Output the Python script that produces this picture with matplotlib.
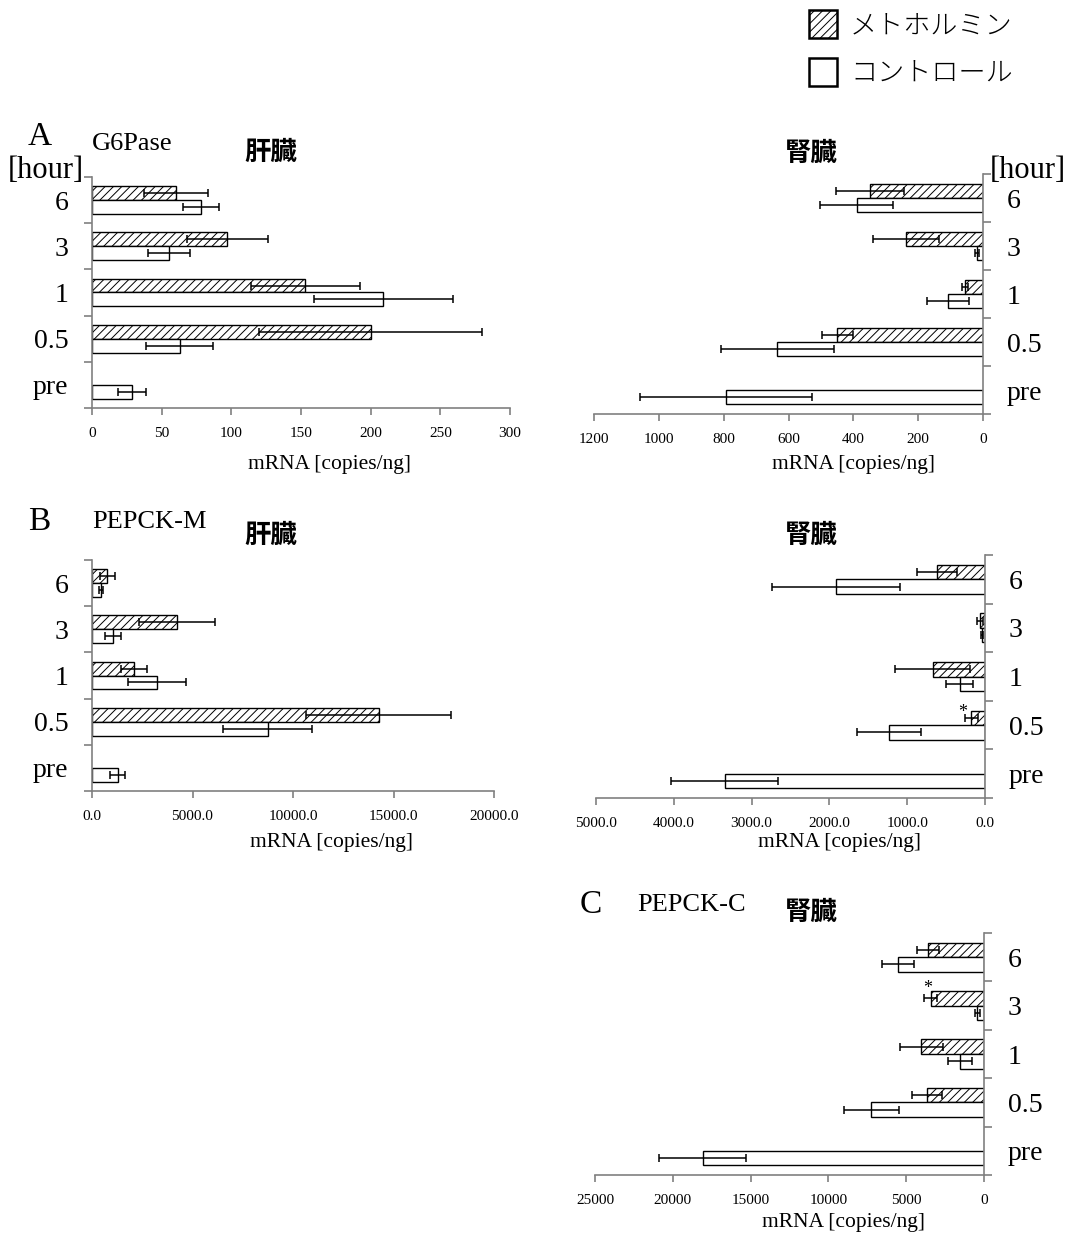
import numpy as np
import matplotlib
matplotlib.use("Agg")
import matplotlib.pyplot as plt
from matplotlib.patches import Rectangle
from matplotlib.ticker import FormatStrFormatter

W, H = 1075, 1237
SERIF = "Liberation Serif"
JP = "Noto Sans CJK JP"
plt.rcParams["font.family"] = [SERIF, JP]
plt.rcParams["hatch.linewidth"] = 0.7
plt.rcParams["hatch.color"] = "#222222"
GRAY = "#808080"

hours = ["6", "3", "1", "0.5", "pre"]

# G6Pase (copies/ng), order: 6, 3, 1, 0.5, pre
g6_liver_met = [60, 97, 153, 200, 0]
g6_liver_met_sd = [23, 29, 39, 80, 0]
g6_liver_ctl = [78, 55, 209, 63, 29]
g6_liver_ctl_sd = [13, 15, 50, 24, 10]
g6_kidney_met = [350, 237, 55, 449, 0]
g6_kidney_met_sd = [105, 102, 10, 47, 0]
g6_kidney_ctl = [390, 18, 109, 634, 794]
g6_kidney_ctl_sd = [112, 6, 65, 173, 265]

# PEPCK-M
pm_liver_met = [750, 4230, 2070, 14270, 0]
pm_liver_met_sd = [370, 1900, 650, 3600, 0]
pm_liver_ctl = [445, 1040, 3230, 8740, 1280]
pm_liver_ctl_sd = [110, 390, 1450, 2220, 360]
pm_kidney_met = [613, 69, 673, 176, 0]
pm_kidney_met_sd = [257, 40, 480, 82, 0]
pm_kidney_ctl = [1919, 39, 326, 1238, 3346]
pm_kidney_ctl_sd = [822, 15, 178, 410, 685]

# PEPCK-C
pc_kidney_met = [3580, 3430, 4030, 3670, 0]
pc_kidney_met_sd = [710, 430, 1370, 975, 0]
pc_kidney_ctl = [5540, 430, 1545, 7250, 18090]
pc_kidney_ctl_sd = [1020, 150, 770, 1760, 2820]

fig = plt.figure(figsize=(W / 100, H / 100), dpi=100)


def ftext(x, y, s, **kw):
    kw.setdefault("va", "center")
    fig.text(x / W, 1 - y / H, s, **kw)


def panel(rect, met, met_sd, ctl, ctl_sd, xmax, xstep, fmt, side, xlabel_x, xlabel_y):
    l, t, r, b = rect
    ax = fig.add_axes([l / W, 1 - b / H, (r - l) / W, (b - t) / H])
    y = np.arange(len(hours))
    h = 0.3
    met, met_sd = np.array(met, float), np.array(met_sd, float)
    ctl, ctl_sd = np.array(ctl, float), np.array(ctl_sd, float)
    m = met > 0
    ax.barh((y - h / 2)[m], met[m], height=h, color="white", edgecolor="black",
            hatch="////", linewidth=1.0, zorder=2)
    ax.barh(y + h / 2, ctl, height=h, color="white", edgecolor="black",
            linewidth=1.0, zorder=2)
    ax.errorbar(met[m], (y - h / 2)[m], xerr=met_sd[m], fmt="none", ecolor="black",
                elinewidth=1.1, capsize=2.6, capthick=1.1, zorder=3)
    ax.errorbar(ctl, y + h / 2, xerr=ctl_sd, fmt="none", ecolor="black",
                elinewidth=1.1, capsize=2.6, capthick=1.1, zorder=3)
    ax.set_ylim(4.5, -0.5)
    ax.set_xlim(0, xmax)
    ax.set_xticks(np.arange(0, xmax + 1e-9, xstep))
    ax.xaxis.set_major_formatter(FormatStrFormatter(fmt))
    ax.set_yticks(np.arange(-0.5, 5, 1))
    ax.set_yticklabels([])
    ax.set_yticks(y, minor=True)
    ax.set_yticklabels(hours, minor=True)
    ax.spines["top"].set_visible(False)
    if side == "right":
        ax.invert_xaxis()
        ax.yaxis.tick_right()
        ax.spines["left"].set_visible(False)
        ax.spines["right"].set_color(GRAY)
        ax.spines["right"].set_linewidth(1.2)
    else:
        ax.spines["right"].set_visible(False)
        ax.spines["left"].set_color(GRAY)
        ax.spines["left"].set_linewidth(1.2)
    ax.spines["bottom"].set_color(GRAY)
    ax.spines["bottom"].set_linewidth(1.2)
    ax.tick_params(axis="y", which="major", length=6, width=1.2, color=GRAY, direction="out")
    ax.tick_params(axis="y", which="minor", length=0, pad=17, labelsize=20)
    ax.tick_params(axis="x", length=5, width=1.2, color=GRAY, labelsize=11, pad=9)
    ftext(xlabel_x, xlabel_y, "mRNA [copies/ng]", ha="center", fontsize=15.5)
    return ax


# Panel A
panel((92, 177, 510, 408), g6_liver_met, g6_liver_met_sd, g6_liver_ctl, g6_liver_ctl_sd,
      300, 50, "%d", "left", 330, 464)
panel((594, 174, 983, 414), g6_kidney_met, g6_kidney_met_sd, g6_kidney_ctl, g6_kidney_ctl_sd,
      1200, 200, "%d", "right", 853, 464)

# Panel B
panel((92, 560, 494, 791), pm_liver_met, pm_liver_met_sd, pm_liver_ctl, pm_liver_ctl_sd,
      20000, 5000, "%.1f", "left", 332, 843)
axb = panel((596, 555, 985, 798), pm_kidney_met, pm_kidney_met_sd, pm_kidney_ctl, pm_kidney_ctl_sd,
            5000, 1000, "%.1f", "right", 840, 843)
axb.text(285, 2.74, "*", ha="center", va="center", fontsize=13)

# Panel C
axc = panel((595, 933, 984, 1175), pc_kidney_met, pc_kidney_met_sd, pc_kidney_ctl, pc_kidney_ctl_sd,
            25000, 5000, "%d", "right", 843, 1222)
axc.text(3600, 0.64, "*", ha="center", va="center", fontsize=13)

# headings
ftext(28, 137, "A", ha="left", fontsize=24)
ftext(92, 144, "G6Pase", ha="left", fontsize=19)
ftext(8, 170, "[hour]", ha="left", fontsize=22)
ftext(990, 170, "[hour]", ha="left", fontsize=22)
ftext(271, 152, "肝臓", ha="center", family=JP, fontsize=19, fontweight="bold")
ftext(811, 153, "腎臓", ha="center", family=JP, fontsize=19, fontweight="bold")

ftext(28, 522, "B", ha="left", fontsize=24)
ftext(92, 522, "PEPCK-M", ha="left", fontsize=19)
ftext(271, 535, "肝臓", ha="center", family=JP, fontsize=19, fontweight="bold")
ftext(811, 535, "腎臓", ha="center", family=JP, fontsize=19, fontweight="bold")

ftext(580, 905, "C", ha="left", fontsize=24)
ftext(637, 905, "PEPCK-C", ha="left", fontsize=19)
ftext(811, 912, "腎臓", ha="center", family=JP, fontsize=19, fontweight="bold")

# legend
fig.add_artist(Rectangle((809 / W, 1 - 38 / H), 28 / W, 28 / H, transform=fig.transFigure,
                         facecolor="white", edgecolor="black", hatch="////", linewidth=1.8))
fig.add_artist(Rectangle((809 / W, 1 - 86 / H), 28 / W, 28 / H, transform=fig.transFigure,
                         facecolor="white", edgecolor="black", linewidth=1.8))
ftext(850, 25, "メトホルミン", ha="left", family=JP, fontsize=19.5, fontweight="light")
ftext(850, 73, "コントロール", ha="left", family=JP, fontsize=19.5, fontweight="light")

fig.savefig("out.png", dpi=100, facecolor="white")
